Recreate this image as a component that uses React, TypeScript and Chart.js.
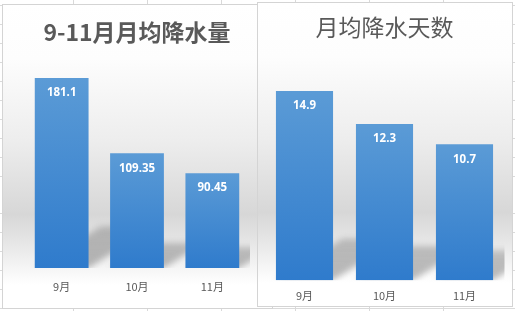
import React, { useEffect, useRef } from "react";
import { Chart, registerables } from "chart.js";

Chart.register(...registerables);

const categories = ["9月", "10月", "11月"];
const rainfallValues = [181.1, 109.35, 90.45];
const rainfallLabels = ["181.1", "109.35", "90.45"];
const rainDaysValues = [14.9, 12.3, 10.7];
const rainDaysLabels = ["14.9", "12.3", "10.7"];
const rainfallTitle = "9-11月月均降水量";
const rainDaysTitle = "月均降水天数";
const rainfallAxisMax = 200;
const rainDaysAxisMax = 16;

const CJK = "'Noto Sans CJK SC', 'Noto Sans', sans-serif";
const TEXT = "#595959";

const backgroundPlugin = {
  id: "excelBackground",
  beforeDraw(chart: any) {
    const { ctx, width, height } = chart;
    ctx.save();
    const g = ctx.createLinearGradient(0, 0, 0, height);
    g.addColorStop(0, "#ffffff");
    g.addColorStop(0.18, "#fdfdfd");
    g.addColorStop(0.45, "#ededed");
    g.addColorStop(0.69, "#d7d7d7");
    g.addColorStop(0.8, "#e9e9e9");
    g.addColorStop(0.92, "#ffffff");
    g.addColorStop(1, "#ffffff");
    ctx.fillStyle = g;
    ctx.fillRect(0, 0, width, height);
    ctx.strokeStyle = "#d4d4d4";
    ctx.lineWidth = 1;
    ctx.strokeRect(0.5, 0.5, width - 1, height - 1);
    ctx.restore();
  },
};

const shadowPlugin = {
  id: "perspectiveShadow",
  beforeDatasetsDraw(chart: any) {
    const { ctx, chartArea } = chart;
    const meta = chart.getDatasetMeta(0);
    ctx.save();
    ctx.beginPath();
    ctx.rect(chartArea.left, chartArea.top, chartArea.right - chartArea.left, chartArea.bottom - chartArea.top);
    ctx.clip();
    ctx.filter = "blur(3px)";
    meta.data.forEach((el: any) => {
      const half = el.width / 2;
      const x0 = el.x - half;
      const x1 = el.x + half;
      const yb = el.base;
      const h = el.base - el.y;
      const dx = 0.35 * h;
      const dy = 0.22 * h;
      const g = ctx.createLinearGradient(0, yb, 0, yb - dy);
      g.addColorStop(0, "rgba(80,80,80,0.40)");
      g.addColorStop(1, "rgba(80,80,80,0.30)");
      ctx.fillStyle = g;
      ctx.beginPath();
      ctx.moveTo(x0, yb);
      ctx.lineTo(x1, yb);
      ctx.lineTo(x1 + dx, yb - dy);
      ctx.lineTo(x0 + dx, yb - dy);
      ctx.closePath();
      ctx.fill();
    });
    ctx.restore();
  },
};

const valueLabelPlugin = {
  id: "valueLabels",
  afterDatasetsDraw(chart: any, _args: any, opts: any) {
    const { ctx } = chart;
    const meta = chart.getDatasetMeta(0);
    const labels: string[] = opts.labels || [];
    ctx.save();
    ctx.fillStyle = "#ffffff";
    ctx.font = "bold 11.5px 'Open Sans', 'DejaVu Sans', sans-serif";
    ctx.textAlign = "center";
    ctx.textBaseline = "middle";
    meta.data.forEach((el: any, i: number) => {
      ctx.fillText(labels[i], el.x, el.y + 15);
    });
    ctx.restore();
  },
};

function barGradient(context: any) {
  const chart = context.chart;
  const area = chart.chartArea;
  if (!area || !chart.scales.y) return "#4a8fd3";
  const top = chart.scales.y.getPixelForValue(context.raw);
  const g = chart.ctx.createLinearGradient(0, top, 0, area.bottom);
  g.addColorStop(0, "#5b9bd6");
  g.addColorStop(1, "#2f7bcc");
  return g;
}

function makeConfig(
  values: number[],
  labels: string[],
  title: string,
  bold: boolean,
  max: number,
  pad: { left: number; right: number; bottom: number },
  titlePad: { top: number; bottom: number },
  tickPad: number
): any {
  return {
    type: "bar",
    data: {
      labels: categories,
      datasets: [
        {
          data: values,
          backgroundColor: barGradient,
          borderWidth: 0,
          barPercentage: 0.714,
          categoryPercentage: 1,
        },
      ],
    },
    options: {
      responsive: false,
      animation: false,
      devicePixelRatio: 1,
      events: [],
      layout: { padding: { left: pad.left, right: pad.right, top: 0, bottom: pad.bottom } },
      plugins: {
        legend: { display: false },
        tooltip: { enabled: false },
        title: {
          display: true,
          text: title,
          color: TEXT,
          font: { family: CJK, size: 23, weight: bold ? "bold" : "normal" },
          padding: titlePad,
        },
        valueLabels: { labels },
      },
      scales: {
        x: {
          grid: { display: false, drawTicks: false },
          border: { display: false },
          ticks: { color: TEXT, font: { family: CJK, size: 11 }, padding: tickPad },
        },
        y: { display: false, min: 0, max },
      },
    },
    plugins: [backgroundPlugin, shadowPlugin, valueLabelPlugin],
  };
}

export default function App() {
  const leftRef = useRef<HTMLCanvasElement>(null);
  const rightRef = useRef<HTMLCanvasElement>(null);

  useEffect(() => {
    const left = new Chart(
      leftRef.current!,
      makeConfig(
        rainfallValues,
        rainfallLabels,
        rainfallTitle,
        true,
        rainfallAxisMax,
        { left: 22, right: 23, bottom: 3.8 },
        { top: 14.2, bottom: 12.5 },
        12
      )
    );
    const right = new Chart(
      rightRef.current!,
      makeConfig(
        rainDaysValues,
        rainDaysLabels,
        rainDaysTitle,
        false,
        rainDaysAxisMax,
        { left: 7.5, right: 8.5, bottom: -4.5 },
        { top: 11.2, bottom: 36.2 },
        9
      )
    );
    return () => {
      left.destroy();
      right.destroy();
    };
  }, []);

  return (
    <div
      style={{
        position: "fixed",
        left: 0,
        top: 0,
        width: 515,
        height: 311,
        overflow: "hidden",
        backgroundColor: "#ffffff",
        backgroundImage:
          "repeating-linear-gradient(90deg, transparent 0px, transparent 73px, #d9d9d9 73px, #d9d9d9 74px, transparent 74px, transparent 73.2px), repeating-linear-gradient(180deg, transparent 0px, transparent 5px, #dadada 5px, #dadada 6px, transparent 6px, transparent 18.95px)",
      }}
    >
      <canvas
        ref={leftRef}
        width={271}
        height={305}
        style={{ position: "absolute", left: 2, top: 4, width: 271, height: 305 }}
      />
      <canvas
        ref={rightRef}
        width={256}
        height={305}
        style={{ position: "absolute", left: 257, top: 2, width: 256, height: 305 }}
      />
    </div>
  );
}
